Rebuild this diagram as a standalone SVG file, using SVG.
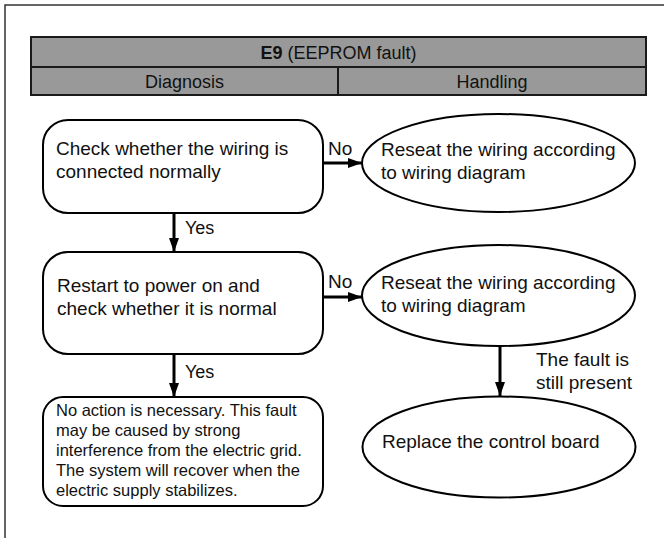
<svg xmlns="http://www.w3.org/2000/svg" width="664" height="538" viewBox="0 0 664 538">
  <defs>
    <style>
      text { font-family: "Liberation Sans", Arial, sans-serif; fill: #111; }
      .t { font-size: 19px; }
      .s { font-size: 16.5px; }
      .h { font-size: 18px; }
      .node { fill: #fff; stroke: #000; stroke-width: 2; }
      .hdr { fill: #999; stroke: #1a1a1a; stroke-width: 2; }
      .edge { stroke: #000; stroke-width: 3; fill: none; }
    </style>
    <marker id="ah" viewBox="0 0 14 10" refX="14" refY="5" markerWidth="14" markerHeight="10" markerUnits="userSpaceOnUse" orient="auto">
      <path d="M0,0 L14,5 L0,10 Z" fill="#000"/>
    </marker>
  </defs>
  <rect width="664" height="538" fill="#fff"/>
  <path d="M5,538 V5 H664" fill="none" stroke="#333" stroke-width="1.5"/>

  <g id="header">
    <rect class="hdr" x="31" y="37" width="615" height="30"/>
    <rect class="hdr" x="31" y="67" width="307" height="28"/>
    <rect class="hdr" x="338" y="67" width="308" height="28"/>
    <text class="h" x="338.5" y="58.5" text-anchor="middle"><tspan font-weight="bold">E9</tspan> (EEPROM fault)</text>
    <text class="h" x="184.5" y="87.5" text-anchor="middle">Diagnosis</text>
    <text class="h" x="492" y="87.5" text-anchor="middle">Handling</text>
  </g>

  <g id="connectors">
    <line class="edge" x1="174" y1="213" x2="174" y2="252" marker-end="url(#ah)"/>
    <line class="edge" x1="174" y1="354" x2="174" y2="397" marker-end="url(#ah)"/>
    <line class="edge" x1="323" y1="163" x2="362" y2="163" marker-end="url(#ah)"/>
    <line class="edge" x1="323" y1="297" x2="362" y2="297" marker-end="url(#ah)"/>
    <line class="edge" x1="500" y1="346" x2="500" y2="396" marker-end="url(#ah)"/>
    <text class="h" x="185" y="234">Yes</text>
    <text class="h" x="185" y="378">Yes</text>
    <text class="t" x="328" y="155">No</text>
    <text class="t" x="328" y="288">No</text>
    <text class="t" x="536" y="366">The fault is</text>
    <text class="t" x="536" y="389">still present</text>
  </g>

  <g id="check-wiring">
    <rect class="node" x="43" y="120" width="280" height="93" rx="25" ry="25"/>
    <text class="t" x="56" y="155">Check whether the wiring is</text>
    <text class="t" x="56" y="178">connected normally</text>
  </g>

  <g id="restart">
    <rect class="node" x="43" y="252" width="280" height="102" rx="25" ry="25"/>
    <text class="t" x="57" y="292">Restart to power on and</text>
    <text class="t" x="57" y="315">check whether it is normal</text>
  </g>

  <g id="no-action">
    <rect class="node" x="43" y="397" width="280" height="109" rx="20" ry="20"/>
    <text class="s" x="56" y="416">No action is necessary. This fault</text>
    <text class="s" x="56" y="436">may be caused by strong</text>
    <text class="s" x="56" y="456">interference from the electric grid.</text>
    <text class="s" x="56" y="476">The system will recover when the</text>
    <text class="s" x="56" y="496">electric supply stabilizes.</text>
  </g>

  <g id="reseat-1">
    <ellipse class="node" cx="498.5" cy="163" rx="136.5" ry="49"/>
    <text class="t" x="381" y="156">Reseat the wiring according</text>
    <text class="t" x="381" y="179">to wiring diagram</text>
  </g>

  <g id="reseat-2">
    <ellipse class="node" cx="498.5" cy="295.5" rx="136.5" ry="50.5"/>
    <text class="t" x="381" y="289">Reseat the wiring according</text>
    <text class="t" x="381" y="312">to wiring diagram</text>
  </g>

  <g id="replace-board">
    <ellipse class="node" cx="499" cy="447" rx="136.5" ry="50.5"/>
    <text class="t" x="382" y="448">Replace the control board</text>
  </g>
</svg>
